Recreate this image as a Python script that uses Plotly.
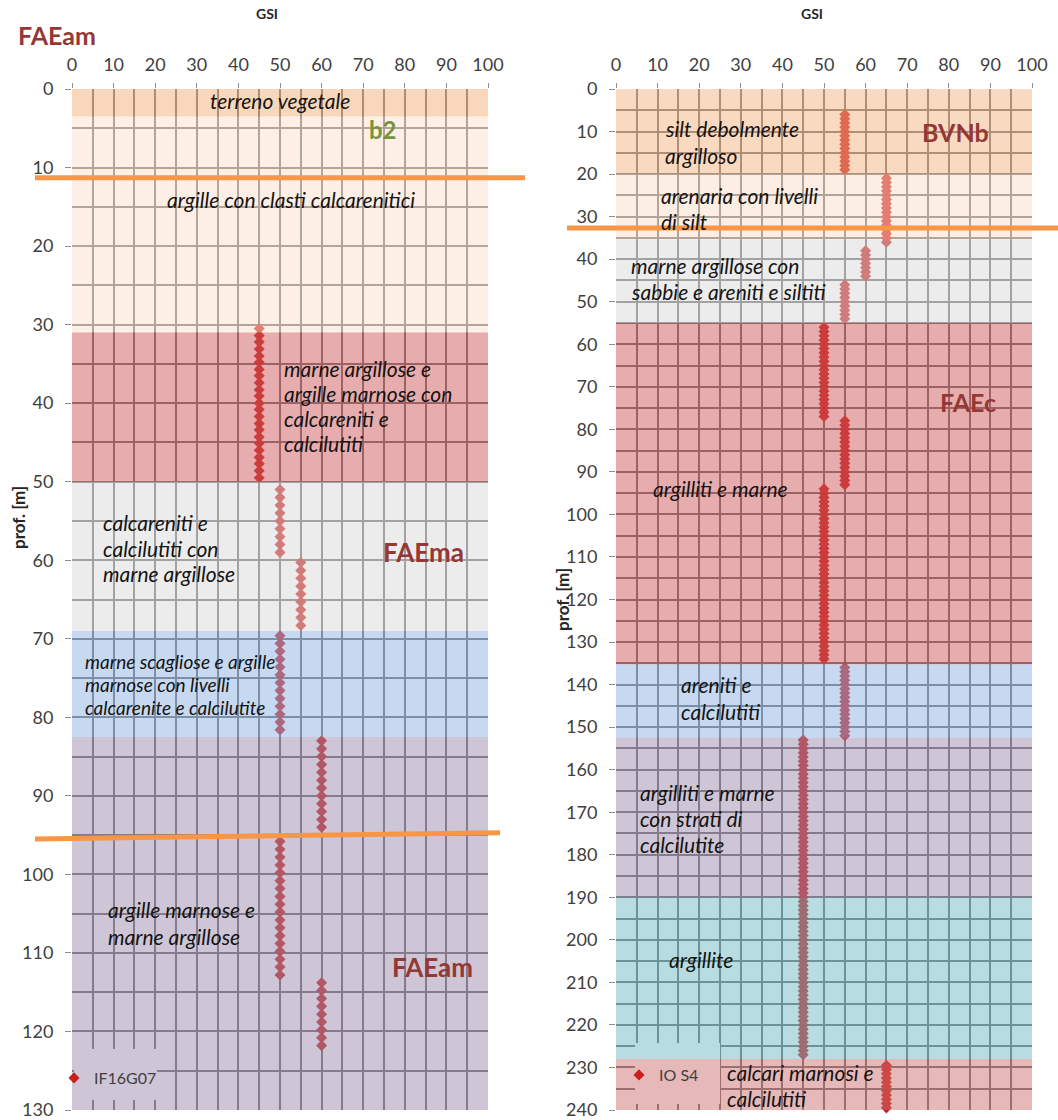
import plotly.graph_objects as go

FIG_W, FIG_H = 1058, 1120

# ---------------------------------------------------------------- data
gsi_ticks = [0, 10, 20, 30, 40, 50, 60, 70, 80, 90, 100]
depth_ticks_left = [0, 10, 20, 30, 40, 50, 60, 70, 80, 90, 100, 110, 120, 130]
depth_ticks_right = [0, 10, 20, 30, 40, 50, 60, 70, 80, 90, 100, 110, 120, 130,
                     140, 150, 160, 170, 180, 190, 200, 210, 220, 230, 240]

# borehole IF16G07: GSI of each logged run and the depths (m) of its readings
if16_gsi = [45, 50, 55, 50, 60, 50, 60]
if16_depth = [
    [30.5, 31.4, 32.2, 33.1, 34.0, 34.8, 35.7, 36.5, 37.4, 38.3, 39.1, 40.0,
     40.8, 41.7, 42.6, 43.4, 44.3, 45.1, 46.0, 46.9, 47.7, 48.6, 49.5],
    [51, 52, 53, 54, 55, 56, 57, 58, 59],
    [60.3, 61.3, 62.3, 63.3, 64.3, 65.3, 66.3, 67.3, 68.3],
    [69.6, 70.6, 71.6, 72.6, 73.6, 74.6, 75.6, 76.6, 77.6, 78.6, 79.6, 80.6, 81.6],
    [83, 84, 85, 86, 87, 88, 89, 90, 91, 92, 93, 94],
    [95.8, 96.8, 97.8, 98.8, 99.8, 100.8, 101.8, 102.8, 103.8, 104.8, 105.8,
     106.8, 107.8, 108.8, 109.8, 110.8, 111.8, 112.8],
    [113.8, 114.8, 115.8, 116.8, 117.8, 118.8, 119.8, 120.8, 121.8],
]

# borehole IO S4
io_gsi = [55, 65, 60, 55, 50, 55, 50, 55, 45, 65]
io_depth = [
    [6, 7, 8, 9, 10, 11, 12, 13, 14, 15, 16, 17, 18, 19],
    [21, 22, 23, 24, 25, 26, 27, 28, 29, 30, 31, 32, 33, 34, 35, 36],
    [38, 39, 40, 41, 42, 43, 44],
    [46, 47, 48, 49, 50, 51, 52, 53, 54],
    [56, 57, 58, 59, 60, 61, 62, 63, 64, 65, 66, 67, 68, 69, 70, 71, 72, 73,
     74, 75, 76, 77],
    [78, 79, 80, 81, 82, 83, 84, 85, 86, 87, 88, 89, 90, 91, 92, 93],
    [94, 95, 96, 97, 98, 99, 100, 101, 102, 103, 104, 105, 106, 107, 108, 109,
     110, 111, 112, 113, 114, 115, 116, 117, 118, 119, 120, 121, 122, 123, 124,
     125, 126, 127, 128, 129, 130, 131, 132, 133, 134],
    [136, 137, 138, 139, 140, 141, 142, 143, 144, 145, 146, 147, 148, 149, 150,
     151, 152],
    [153, 154, 155, 156, 157, 158, 159, 160, 161, 162, 163, 164, 165, 166, 167,
     168, 169, 170, 171, 172, 173, 174, 175, 176, 177, 178, 179, 180, 181, 182,
     183, 184, 185, 186, 187, 188, 189, 190, 191, 192, 193, 194, 195, 196, 197,
     198, 199, 200, 201, 202, 203, 204, 205, 206, 207, 208, 209, 210, 211, 212,
     213, 214, 215, 216, 217, 218, 219, 220, 221, 222, 223, 224, 225, 226, 227],
    [229.5, 230.5, 231.5, 232.5, 233.5, 234.5, 235.5, 236.5, 237.5, 238.5, 239.5],
]

# lithological units (top / base in m) and their descriptions
left_top = [0, 3.5, 31, 50, 69, 82.5]
left_base = [3.5, 31, 50, 69, 82.5, 130]
left_desc = [
    ["terreno vegetale"],
    ["argille con clasti calcarenitici"],
    ["marne argillose e", "argille marnose con", "calcareniti e", "calcilutiti"],
    ["calcareniti e", "calcilutiti con", "marne argillose"],
    ["marne scagliose e argille", "marnose con livelli", "calcarenite e calcilutite"],
    ["argille marnose e", "marne argillose"],
]

right_top = [0, 20, 35.5, 55, 135.3, 152.5, 190, 228]
right_base = [20, 35.5, 55, 135.3, 152.5, 190, 228, 240]
right_desc = [
    ["silt debolmente", "argilloso"],
    ["arenaria con livelli", "di silt"],
    ["marne argillose con", "sabbie e areniti e siltiti"],
    ["argilliti e marne"],
    ["areniti e", "calcilutiti"],
    ["argilliti e marne", "con strati di", "calcilutite"],
    ["argillite"],
    ["calcari marnosi e", "calcilutiti"],
]

# formation contacts (depth at the left / right end of the line)
left_contacts = [(11.3, 11.3), (95.5, 94.7)]
right_contacts = [(32.7, 32.7)]

left_formations = ["b2", "FAEma", "FAEam"]
right_formations = ["BVNb", "FAEc"]

# ---------------------------------------------------------------- style
FONT = "Lato"
MARKER = "rgb(200,30,30)"
GRID = "#6a6a6a"
TICK = "#8c8c8c"
TICKTXT = "#404040"
ORANGE = "#f79646"
DARKRED = "#953735"
GREEN = "#77933c"
BAND_OPACITY = 0.5
DESC_SIZE = 21

left_colors = ["rgb(243,175,121)", "rgb(251,223,203)", "rgb(207,89,91)",
               "rgb(217,217,217)", "rgb(141,179,227)", "rgb(157,141,173)"]
right_colors = ["rgb(245,179,131)", "rgb(251,221,201)", "rgb(217,217,217)",
                "rgb(207,89,91)", "rgb(141,179,227)", "rgb(157,141,173)",
                "rgb(111,187,199)", "rgb(205,115,113)"]

# description placement: (gsi, depth of block centre, anchor, font size, line height)
left_desc_pos = [(50, 1.5, "center", DESC_SIZE, 26), (52.7, 14.1, "center", DESC_SIZE, 26),
                 (50.5, 40.4, "left", DESC_SIZE, 25), (7, 58.5, "left", DESC_SIZE, 25.5),
                 (2.6, 75.8, "left", 19, 23), (8.2, 106.2, "left", DESC_SIZE, 26.5)]
right_desc_pos = [(11.3, 12.4, "left", DESC_SIZE, 26.5), (10.3, 28.1, "left", DESC_SIZE, 26.5),
                  (3.1, 44.6, "left", DESC_SIZE, 26.5), (8.3, 93.9, "left", DESC_SIZE, 26.5),
                  (15.1, 143.2, "left", DESC_SIZE, 26.5), (5.2, 171.5, "left", DESC_SIZE, 26.2),
                  (12.3, 204.6, "left", DESC_SIZE, 26.5), (26.2, 234.2, "left", DESC_SIZE, 26.5)]
left_form_pos = [(74.8, 5.2, GREEN, 24), (84.6, 58.9, DARKRED, 26), (86.6, 111.8, DARKRED, 26)]
right_form_pos = [(81.7, 10.0, DARKRED, 25), (84.6, 73.6, DARKRED, 25)]

# pixel geometry of the two panels
PX_LEFT = (72, 488)
PX_RIGHT = (616, 1032)
PX_TOP, PX_BOT = 89, 1110


def px_x(px):
    return px / FIG_W


def px_y(py):
    return 1 - py / FIG_H


fig = go.Figure()

fig.add_trace(go.Scatter(
    x=[g for g, ds in zip(if16_gsi, if16_depth) for _ in ds],
    y=[d for ds in if16_depth for d in ds],
    mode="markers", name="IF16G07", xaxis="x", yaxis="y", legend="legend",
    marker=dict(symbol="diamond", size=8.5, color=MARKER, line=dict(width=0)),
    cliponaxis=False, hoverinfo="x+y"))

fig.add_trace(go.Scatter(
    x=[g for g, ds in zip(io_gsi, io_depth) for _ in ds],
    y=[d for ds in io_depth for d in ds],
    mode="markers", name="IO S4", xaxis="x2", yaxis="y2", legend="legend2",
    marker=dict(symbol="diamond", size=8.5, color=MARKER, line=dict(width=0)),
    cliponaxis=False, hoverinfo="x+y"))

shapes = []
# white backing of the legend boxes (tinted by the unit overlays)
for x0, x1, y0, y1 in [(74, 157, 1049, 1100), (635, 720, 1043, 1104)]:
    shapes.append(dict(type="rect", xref="paper", yref="paper",
                       x0=px_x(x0), x1=px_x(x1), y0=px_y(y1), y1=px_y(y0),
                       fillcolor="white", line=dict(width=0), layer="above"))

# translucent lithological units drawn over grid and markers
for xr, yr, tops, bases, cols in [("x", "y", left_top, left_base, left_colors),
                                  ("x2", "y2", right_top, right_base, right_colors)]:
    for t, b, c in zip(tops, bases, cols):
        shapes.append(dict(type="rect", xref=xr, yref=yr, x0=0, x1=100, y0=t, y1=b,
                           fillcolor=c, opacity=BAND_OPACITY, line=dict(width=0),
                           layer="above"))

# formation contacts
for yr, contacts, x0, x1 in [("y", left_contacts, [35, 35], [525, 500]),
                             ("y2", right_contacts, [567], [1058])]:
    for (d0, d1), a, b in zip(contacts, x0, x1):
        shapes.append(dict(type="line", xref="paper", yref=yr,
                           x0=px_x(a), x1=px_x(b), y0=d0, y1=d1,
                           line=dict(color=ORANGE, width=5), layer="above"))

annotations = []


def add_block(lines, x, y, anchor, size, lh, xr, yr):
    n = len(lines)
    for i, ln in enumerate(lines):
        annotations.append(dict(
            text=ln, x=x, y=y, xref=xr, yref=yr, xanchor=anchor, yanchor="middle",
            yshift=((n - 1) / 2 - i) * lh, showarrow=False,
            font=dict(family=FONT, size=size, color="#141414", style="italic")))


for lines, (x, y, anc, fs, lh) in zip(left_desc, left_desc_pos):
    add_block(lines, x, y, anc, fs, lh, "x", "y")
for lines, (x, y, anc, fs, lh) in zip(right_desc, right_desc_pos):
    add_block(lines, x, y, anc, fs, lh, "x2", "y2")

for name, (x, y, col, fs) in zip(left_formations, left_form_pos):
    annotations.append(dict(text=name, x=x, y=y, xref="x", yref="y", showarrow=False,
                            xanchor="center", yanchor="middle",
                            font=dict(family=FONT, size=fs, color=col, weight="bold")))
for name, (x, y, col, fs) in zip(right_formations, right_form_pos):
    annotations.append(dict(text=name, x=x, y=y, xref="x2", yref="y2", showarrow=False,
                            xanchor="center", yanchor="middle",
                            font=dict(family=FONT, size=fs, color=col, weight="bold")))

# panel heading and axis titles
annotations.append(dict(text="FAEam", x=px_x(57), y=px_y(35), xref="paper", yref="paper",
                        showarrow=False, xanchor="center", yanchor="middle",
                        font=dict(family=FONT, size=25, color=DARKRED, weight="bold")))
for cx in (267, 812):
    annotations.append(dict(text="GSI", x=px_x(cx), y=px_y(14), xref="paper", yref="paper",
                            showarrow=False, xanchor="center", yanchor="middle",
                            font=dict(family=FONT, size=14, color="#262626", weight="bold")))
for cx, cy in ((18, 518), (562, 600)):
    annotations.append(dict(text="prof. [m]", x=px_x(cx), y=px_y(cy), xref="paper",
                            yref="paper", showarrow=False, textangle=-90,
                            xanchor="center", yanchor="middle",
                            font=dict(family=FONT, size=17, color="#262626", weight="bold")))


def xaxis_cfg(px_range, anchor):
    return dict(domain=[px_x(px_range[0]), px_x(px_range[1])], range=[0, 100],
                anchor=anchor, side="top", tickvals=gsi_ticks, ticks="outside",
                ticklen=5, tickwidth=1.3, tickcolor=TICK, ticklabelstandoff=5,
                ticklabeloverflow="allow",
                showgrid=True, gridcolor=GRID, gridwidth=1.6,
                minor=dict(dtick=5, showgrid=True, gridcolor=GRID, gridwidth=1.6),
                zeroline=False, showline=False, fixedrange=True, automargin=False,
                tickfont=dict(family=FONT, size=18, color=TICKTXT))


def yaxis_cfg(ticks, anchor):
    return dict(domain=[px_y(PX_BOT), px_y(PX_TOP)], range=[ticks[-1], 0],
                anchor=anchor, tickvals=ticks, ticks="outside", ticklen=6,
                tickwidth=1.3, tickcolor=TICK, ticklabelstandoff=8,
                ticklabeloverflow="allow",
                showgrid=True, gridcolor=GRID, gridwidth=1.6,
                minor=dict(dtick=5, showgrid=True, gridcolor=GRID, gridwidth=1.6),
                zeroline=False, showline=False, fixedrange=True, automargin=False,
                tickfont=dict(family=FONT, size=18, color=TICKTXT))


legend_common = dict(xanchor="left", yanchor="middle", bgcolor="rgba(0,0,0,0)",
                     borderwidth=0, font=dict(family=FONT, size=16, color=TICKTXT))

fig.update_layout(
    width=FIG_W, height=FIG_H, autosize=False,
    margin=dict(l=0, r=0, t=0, b=0, pad=0),
    paper_bgcolor="white", plot_bgcolor="white",
    xaxis=xaxis_cfg(PX_LEFT, "y"),
    yaxis=yaxis_cfg(depth_ticks_left, "x"),
    xaxis2=xaxis_cfg(PX_RIGHT, "y2"),
    yaxis2=yaxis_cfg(depth_ticks_right, "x2"),
    legend=dict(x=px_x(54), y=px_y(1078), **legend_common),
    legend2=dict(x=px_x(619), y=px_y(1075), **legend_common),
    shapes=shapes, annotations=annotations,
    showlegend=True,
)

fig.write_html("out.html")
